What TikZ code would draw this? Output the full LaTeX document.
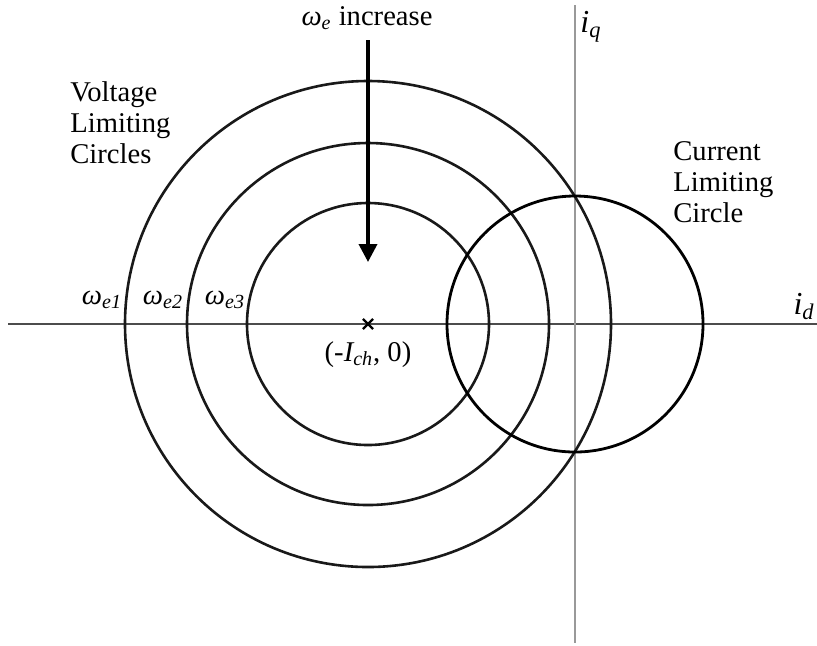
\documentclass[tikz,border=0pt]{standalone}
\usepackage{fontspec}
\setmainfont{Liberation Serif}
\usetikzlibrary{arrows.meta, positioning, shapes.misc}

\begin{document}
\begin{tikzpicture}[
    x=0.5pt, y=-0.5pt,
    daxis/.style={draw=black!70, line width=0.55pt},
    qaxis/.style={draw=black!40, line width=0.7pt},
    vcircle/.style={draw=black!90, line width=1.3pt},
    icircle/.style={draw=black, line width=1.4pt},
    lbl/.style={font=\fontsize{14.3}{15.5}\selectfont, inner sep=0pt, text=black},
    wlbl/.style={lbl, font=\fontsize{14.3}{15.5}\selectfont\itshape},
    albl/.style={lbl, font=\fontsize{16}{18}\selectfont\itshape},
    arr/.style={-{Triangle[length=9pt, width=9pt]}, line width=1.8pt, black},
  ]
    \useasboundingbox (0,0) rectangle (817,645);

    % axes
    \coordinate (dl) at (8,324);
    \coordinate (dr) at (817,324);
    \coordinate (qt) at (575,5);
    \coordinate (qb) at (575,643);
    \draw[daxis] (dl) -- (dr);
    \draw[qaxis] (qt) -- (qb);

    % voltage limiting circles
    \coordinate (ctr) at (368,324);
    \draw[vcircle] (ctr) circle[radius=243];
    \draw[vcircle] (ctr) circle[radius=181];
    \draw[vcircle] (ctr) circle[radius=121];

    % current limiting circle
    \coordinate (org) at (575,324);
    \draw[icircle] (org) circle[radius=128];

    % centre mark
    \node[cross out, draw, line width=1.1pt, minimum size=4pt, inner sep=0pt] (mark) at (ctr) {};

    % labels
    \node[lbl] (inc) at (367,18) {{\itshape ω\textsubscript{e}} increase};
    \node[albl, anchor=north west] (iq) at (580,11) {i\textsubscript{q}};
    \node[albl, anchor=south east] (id) at (815,320) {i\textsubscript{d}};
    \node[lbl, anchor=north west, align=left] (vlc) at (70,81) {Voltage\\Limiting\\Circles};
    \node[lbl, anchor=north west, align=left] (clc) at (673,141) {Current\\Limiting\\Circle};
    \node[wlbl] (we1) at (102,300) {ω\textsubscript{e1}};
    \node[wlbl] (we2) at (163,300) {ω\textsubscript{e2}};
    \node[wlbl] (we3) at (225,300) {ω\textsubscript{e3}};
    \node[lbl, below=6pt of mark] (ich) {(-\textit{I\textsubscript{ch}}, 0)};

    % direction of increasing speed
    \coordinate (as) at (368,40);
    \coordinate (ae) at (368,262);
    \draw[arr] (as) -- (ae);
\end{tikzpicture}
\end{document}
